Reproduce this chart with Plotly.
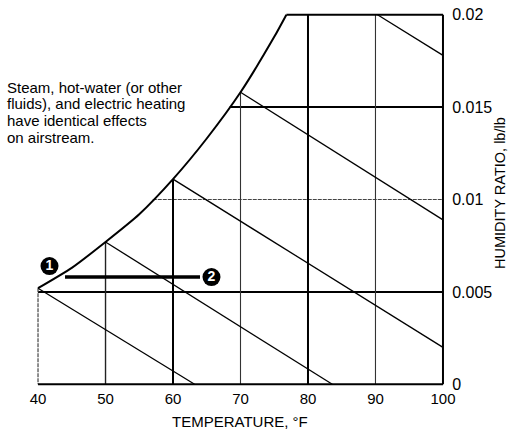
import plotly.graph_objects as go

# ---- data ----
sat_temp = [40, 45, 50, 55, 60, 65, 70, 75, 76.8]
sat_w = [0.0052, 0.0063, 0.0077, 0.0092, 0.0111, 0.0133, 0.0158, 0.0188, 0.0200]

vert_temp = [50, 60, 70, 80, 90]
vert_top_w = [0.0077, 0.0111, 0.0158, 0.0200, 0.0200]
vert_width = [1.4, 2.0, 1.1, 2.0, 1.1]
vert_color = ["#222", "#000", "#333", "#000", "#333"]

horiz_w = [0.005, 0.010, 0.015]
horiz_start_temp = [40, 57.0, 68.4]

diag_start_temp = [40, 50, 60, 70, 90.3]
diag_start_w = [0.0052, 0.0077, 0.0111, 0.0158, 0.0200]
diag_end_temp = [63.2, 83.6, 100, 100, 100]
diag_end_w = [0.0, 0.0, 0.0020, 0.0089, 0.0178]

process_temp = [44, 64]
process_w = [0.0058, 0.0058]

point_temp = [41.7, 65.7]
point_w = [0.0064, 0.0058]
point_labels = ["1", "2"]

x_ticks = [40, 50, 60, 70, 80, 90, 100]
y_ticks = [0, 0.005, 0.01, 0.015, 0.02]
y_ticktext = ["0", "0.005", "0.01", "0.015", "0.02"]

note_lines = ["Steam, hot-water (or other", "fluids), and electric heating",
              "have identical effects", "on airstream."]

FONT = "Liberation Sans, Arial, Helvetica, sans-serif"

fig = go.Figure()

def line(x, y, width=1.2, color="#000", dash="solid"):
    fig.add_trace(go.Scatter(x=x, y=y, mode="lines",
                             line=dict(color=color, width=width, dash=dash),
                             hoverinfo="skip", showlegend=False))

# horizontal lines
for w, t0 in zip(horiz_w, horiz_start_temp):
    if w == 0.010:
        line([t0, 100], [w, w], width=1.2, color="#444", dash="4px,1px")
    else:
        line([t0, 100], [w, w], width=2.0)

# vertical lines
line([40, 40], [sat_w[0], 0], width=1.2, color="#444", dash="4px,1px")
for t, wt, lw, c in zip(vert_temp, vert_top_w, vert_width, vert_color):
    line([t, t], [0, wt], width=lw, color=c)

# diagonal lines
for t0, w0, t1, w1 in zip(diag_start_temp, diag_start_w, diag_end_temp, diag_end_w):
    line([t0, t1], [w0, w1], width=1.3)

# borders
line([40, 100], [0, 0], width=2.0)
line([100, 100], [0, 0.02], width=2.0)
line([sat_temp[-1], 100], [0.02, 0.02], width=2.0)

# saturation curve
fig.add_trace(go.Scatter(x=sat_temp, y=sat_w, mode="lines",
                         line=dict(color="#000", width=2.0, shape="spline", smoothing=0.6),
                         hoverinfo="skip", showlegend=False))

# process line
line(process_temp, process_w, width=3.5)

# state points
fig.add_trace(go.Scatter(x=point_temp, y=point_w, mode="markers+text",
                         marker=dict(size=18, color="#000"),
                         text=["<b>" + s + "</b>" for s in point_labels],
                         textposition="middle center",
                         textfont=dict(color="#fff", size=14, family=FONT),
                         hoverinfo="skip", showlegend=False))

W, H = 512, 430
L, R, T, B = 36, 67, 11, 42
pw, ph = W - L - R, H - T - B

def px(xp):
    return (xp - L) / pw

def py(yp):
    return (H - B - yp) / ph

annotations = []
for txt, ym in zip(note_lines, [87, 103.9, 120.8, 137.7]):
    annotations.append(dict(text=txt, x=px(5), y=py(ym), xref="paper", yref="paper",
                            xanchor="left", yanchor="middle", showarrow=False,
                            font=dict(family=FONT, size=15, color="#000")))
annotations.append(dict(text="TEMPERATURE, °F", x=px(240), y=py(421.5), xref="paper",
                        yref="paper", xanchor="center", yanchor="middle", showarrow=False,
                        font=dict(family=FONT, size=15, color="#000")))
annotations.append(dict(text="HUMIDITY RATIO, lb/lb", x=px(500), y=py(193), xref="paper",
                        yref="paper", xanchor="center", yanchor="middle", showarrow=False,
                        textangle=-90,
                        font=dict(family=FONT, size=14.5, color="#000")))

fig.update_layout(
    width=W, height=H,
    margin=dict(l=L, r=R, t=T, b=B, pad=0, autoexpand=False),
    paper_bgcolor="#fff", plot_bgcolor="#fff",
    font=dict(family=FONT, size=15, color="#000"),
    annotations=annotations,
    hovermode=False,
    xaxis=dict(range=[39.7, 100.3], tickvals=x_ticks, showgrid=False, zeroline=False,
               showline=False, ticks="", automargin=False, ticklabeloverflow="allow",
               tickfont=dict(size=15, family=FONT, color="#000"), fixedrange=True),
    yaxis=dict(range=[-0.0002, 0.0202], side="right", tickvals=y_ticks, ticktext=y_ticktext,
               showgrid=False, zeroline=False, showline=False, ticks="outside", ticklen=3,
               tickcolor="rgba(0,0,0,0)", automargin=False, ticklabeloverflow="allow",
               tickfont=dict(size=16, family=FONT, color="#000"), fixedrange=True),
)

fig.write_html("out.html", config={"displayModeBar": False, "staticPlot": True},
               post_script="document.body.style.margin='0';")
